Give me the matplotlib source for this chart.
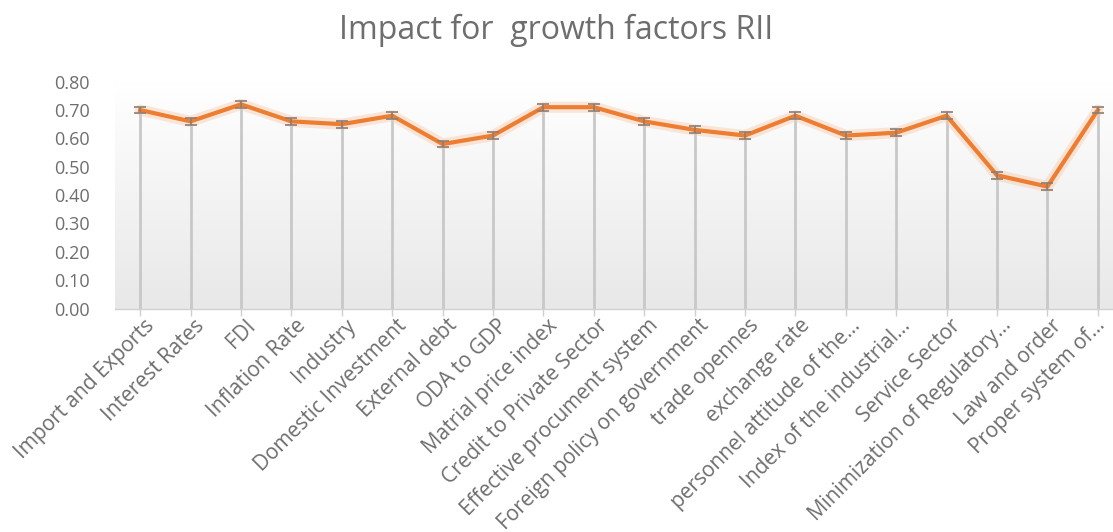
"""Impact for growth factors RII - line chart with drop lines and error bars."""

import matplotlib.pyplot as plt
import matplotlib.transforms as mtransforms
import numpy as np
from matplotlib.colors import LinearSegmentedColormap

categories = [
    "Import and Exports",
    "Interest Rates",
    "FDI",
    "Inflation Rate",
    "Industry",
    "Domestic Investment",
    "External debt",
    "ODA to GDP",
    "Matrial price index",
    "Credit to Private Sector",
    "Effective procument system",
    "Foreign policy on government",
    "trade opennes",
    "exchange rate",
    "personnel attitude of the…",
    "Index of the industrial…",
    "Service Sector",
    "Minimization of Regulatory…",
    "Law and order",
    "Proper system of…",
]
rii = [0.70, 0.66, 0.72, 0.66, 0.65, 0.68, 0.58, 0.61, 0.71, 0.71,
       0.66, 0.63, 0.61, 0.68, 0.61, 0.62, 0.68, 0.47, 0.43, 0.70]
err = [0.012] * len(rii)
yticks = [0.0, 0.1, 0.2, 0.3, 0.4, 0.5, 0.6, 0.7, 0.8]

plt.rcParams["font.family"] = ["Open Sans", "DejaVu Sans"]
texto = "#6e6e6e"

fig = plt.figure(figsize=(11.13, 5.32), dpi=100)
ax = fig.add_axes([0.1033, 0.420, 0.9057, 0.4265])

x = np.arange(len(categories))

# fundo em degradê (branco em cima, cinza claro embaixo)
grad = np.linspace(1.0, 0.0, 256).reshape(-1, 1)
ax.imshow(
    grad,
    extent=[-0.5, len(categories) - 0.5, 0, 0.8],
    aspect="auto",
    cmap=LinearSegmentedColormap.from_list("bg", ["#e8e8e8", "#ffffff"]),
    zorder=0,
)

# linhas de queda
ax.vlines(x, 0, rii, color="#c8c8c8", linewidth=2.0, zorder=1)

# linha com brilho
ax.plot(x, rii, color="#f8cbad", linewidth=8, alpha=0.45, zorder=2,
        solid_capstyle="round", solid_joinstyle="round")
ax.plot(x, rii, color="#ed7d31", linewidth=3, zorder=3,
        solid_joinstyle="round")

# barras de erro
ax.errorbar(x, rii, yerr=err, fmt="none", ecolor="#8c7d74", elinewidth=1.2,
            capsize=4, capthick=1.2, zorder=4)

ax.set_xlim(-0.5, len(categories) - 0.5)
ax.set_ylim(0, 0.8)
ax.set_yticks(yticks)
ax.set_yticklabels([f"{v:.2f}" for v in yticks])
ax.set_xticks(x)
ax.set_xticklabels(categories, rotation=45, ha="right", va="center",
                   rotation_mode="anchor")

ax.tick_params(axis="y", length=0, pad=18, labelsize=13, labelcolor=texto)
ax.tick_params(axis="x", length=5, width=1, color="#d0d0d0", pad=5,
               labelsize=15, labelcolor=texto)

# desloca os rótulos do eixo x um pouco para a direita
rotulos = ax.get_xticklabels()
for i, lbl in enumerate(rotulos):
    dx = 11 if i < len(rotulos) - 1 else 4  # o último cabe na figura
    desloc = mtransforms.ScaledTranslation(dx / 100, 0, fig.dpi_scale_trans)
    lbl.set_transform(lbl.get_transform() + desloc)

for s in ["top", "right", "left"]:
    ax.spines[s].set_visible(False)
ax.spines["bottom"].set_color("#d0d0d0")
ax.spines["bottom"].set_linewidth(1)

fig.text(0.5, 0.943, "Impact for  growth factors RII", ha="center",
         va="center", fontsize=23, color=texto)

fig.savefig("out.png", dpi=100)
